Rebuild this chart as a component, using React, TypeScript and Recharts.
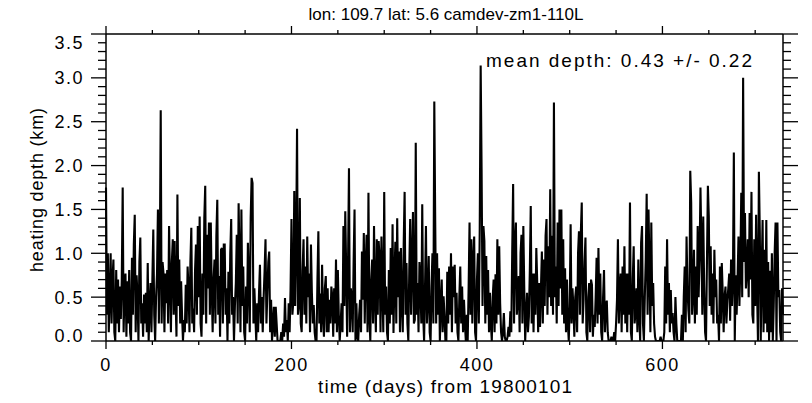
import { Line, LineChart, XAxis, YAxis } from "recharts";

// heating depth (km), one value per day from 1980-01-01
const DEPTH_A = [
  1.75, 0.3, 1.0, 0.1, 0.5, 1.0, 0.2, 0.7, 0.93, 0.1, 0.0, 0.81, 0.2, 0.7, 0.1, 0.62, 0.25, 0.7, 1.75, 0.1,
  0.6, 0.77, 0.05, 0.68, 0.2, 0.81, 0.1, 0.0, 0.95, 0.3, 1.1, 1.44, 0.1, 0.75, 0.5, 0.0, 0.9, 1.18, 0.2, 0.43,
  0.05, 0.53, 0.2, 0.55, 0.1, 0.89, 0.0, 0.4, 0.66, 0.1, 0.7, 1.27, 0.3, 0.0, 0.5, 0.77, 1.5, 0.2, 0.9, 2.63,
];
const DEPTH_B = [
  0.2, 0.9, 0.77, 0.1, 0.77, 0.43, 0.81, 0.2, 1.31, 0.7, 0.1, 0.9, 1.16, 0.3, 1.14, 0.5, 0.05, 1.67, 0.4, 0.93,
  0.2, 0.68, 0.3, 0.0, 0.24, 0.1, 0.64, 0.2, 0.85, 0.6, 0.1, 0.9, 1.29, 0.2, 0.37, 0.1, 0.8, 1.1, 0.3, 1.31,
  0.5, 1.42, 0.2, 0.05, 0.77, 0.3, 1.4, 1.77, 0.2, 1.21, 0.6, 1.35, 0.3, 1.35, 0.6, 0.1, 0.7, 0.93, 0.2, 1.2,
];
const DEPTH_C = [
  1.61, 0.3, 0.74, 0.05, 1.04, 1.06, 0.2, 1.1, 1.1, 0.3, 0.6, 0.0, 0.79, 0.2, 1.0, 1.39, 0.3, 0.5, 0.0, 0.4,
  0.66, 1.21, 0.2, 1.57, 0.9, 0.1, 1.5, 0.4, 0.85, 0.1, 0.0, 0.62, 0.2, 1.12, 0.7, 0.1, 1.4, 1.86, 1.8, 0.2,
  0.6, 0.3, 0.0, 0.43, 0.1, 0.55, 0.87, 0.2, 0.5, 0.1, 0.5, 0.8, 1.16, 0.2, 0.55, 0.9, 1.02, 0.1, 0.47, 0.0,
];
const DEPTH_D = [
  0.2, 0.39, 0.05, 0.39, 0.2, 0.0, 0.0, 0.0, 0.0, 0.1, 0.0, 0.2, 0.05, 0.49, 0.1, 0.24, 0.0, 0.43, 0.1, 0.58,
  1.39, 0.3, 0.45, 1.71, 0.4, 1.07, 2.42, 0.3, 0.41, 1.63, 0.2, 0.1, 0.8, 1.16, 0.3, 0.85, 0.2, 1.19, 0.5, 0.77,
  0.1, 1.1, 0.55, 0.2, 0.41, 0.1, 0.0, 0.0, 0.7, 1.25, 0.2, 0.54, 0.1, 0.87, 0.3, 0.05, 0.6, 0.74, 0.1, 0.6,
];
const DEPTH_E = [
  0.1, 0.47, 0.2, 0.62, 0.51, 0.05, 0.6, 0.2, 0.93, 0.1, 0.81, 0.3, 0.0, 0.2, 0.43, 0.1, 1.31, 0.4, 1.48, 0.81,
  0.05, 0.9, 1.97, 0.1, 0.6, 0.49, 0.1, 0.9, 1.5, 0.0, 0.43, 0.05, 0.0, 0.3, 0.47, 0.1, 1.02, 0.47, 1.23, 0.2,
  0.85, 1.21, 0.1, 1.69, 0.3, 0.0, 0.7, 0.93, 0.2, 1.31, 0.5, 0.1, 1.16, 0.3, 1.14, 0.95, 0.1, 1.19, 0.6, 0.1,
];
const DEPTH_F = [
  1.7, 0.3, 0.62, 0.1, 0.0, 0.81, 0.2, 1.06, 0.3, 1.33, 0.09, 0.7, 1.13, 0.2, 1.4, 0.5, 1.02, 0.1, 1.06, 0.43,
  0.1, 1.1, 1.7, 0.3, 0.89, 0.2, 0.0, 0.8, 1.39, 0.3, 0.9, 1.47, 0.2, 0.24, 2.26, 0.3, 0.66, 0.1, 0.9, 0.66,
  0.2, 1.56, 0.3, 0.0, 0.62, 1.31, 0.2, 0.47, 0.97, 0.1, 0.0, 0.62, 1.0, 0.2, 2.73, 1.35, 0.2, 1.0, 0.3, 0.83,
];
const DEPTH_G = [
  0.0, 0.4, 0.7, 0.1, 0.51, 0.3, 0.0, 0.0, 0.79, 0.2, 0.85, 0.3, 1.0, 0.1, 0.85, 0.5, 0.87, 0.2, 0.55, 0.1,
  0.0, 0.5, 0.85, 0.2, 0.62, 0.1, 0.47, 0.2, 0.0, 0.3, 0.0, 0.6, 1.35, 0.3, 1.16, 0.2, 0.9, 1.19, 0.1, 0.0,
  0.7, 1.0, 0.2, 1.29, 3.14, 1.96, 0.4, 1.31, 1.14, 0.2, 0.97, 0.3, 0.81, 0.1, 0.55, 0.2, 0.0, 0.5, 0.7, 0.1,
];
const DEPTH_H = [
  0.76, 0.2, 1.16, 0.3, 1.08, 0.43, 0.1, 0.0, 0.1, 0.32, 0.05, 0.0, 0.0, 0.05, 0.16, 0.05, 0.34, 0.1, 1.0, 1.79,
  0.2, 1.1, 1.35, 0.3, 0.5, 0.74, 0.1, 1.0, 1.21, 0.2, 1.31, 0.6, 0.0, 0.3, 0.55, 0.1, 0.28, 0.8, 1.54, 0.2,
  0.77, 0.1, 0.77, 0.3, 1.06, 0.66, 0.1, 0.66, 0.16, 0.6, 1.02, 0.2, 0.93, 0.4, 1.2, 1.39, 0.3, 1.08, 0.5, 1.73,
];
const DEPTH_I = [
  0.4, 1.2, 0.3, 2.72, 0.5, 0.85, 0.2, 1.35, 0.4, 1.5, 0.6, 1.5, 0.3, 1.16, 0.2, 0.83, 0.1, 0.7, 0.2, 0.0,
  0.4, 1.33, 0.2, 0.6, 0.39, 0.05, 0.5, 0.62, 0.1, 1.0, 1.25, 0.3, 1.23, 1.58, 0.2, 0.47, 0.9, 1.18, 0.1, 0.0,
  0.5, 0.66, 0.1, 0.7, 0.64, 0.05, 0.3, 0.16, 0.5, 0.95, 0.2, 1.06, 0.3, 0.77, 0.1, 0.0, 0.5, 0.81, 0.1, 0.4,
];
const DEPTH_J = [
  0.46, 0.1, 0.0, 0.0, 0.0, 0.05, 0.0, 0.0, 0.1, 0.0, 0.2, 0.47, 1.16, 0.2, 0.6, 0.77, 0.1, 0.85, 0.3, 1.08,
  0.2, 0.77, 0.1, 0.77, 0.3, 1.58, 0.1, 0.0, 0.7, 1.08, 0.2, 0.32, 0.6, 0.1, 0.93, 0.3, 0.0, 1.12, 1.31, 0.2,
  0.0, 0.5, 0.93, 1.68, 0.3, 1.5, 0.85, 0.1, 1.35, 0.4, 0.66, 0.2, 0.05, 0.0, 0.0, 0.0, 0.0, 0.0, 0.05, 0.0,
];
const DEPTH_K = [
  0.0, 0.0, 0.1, 0.85, 0.2, 1.16, 0.3, 0.66, 0.1, 0.58, 0.2, 0.32, 0.1, 0.0, 0.5, 0.2, 0.0, 0.0, 0.0, 0.0,
  0.0, 0.3, 0.0, 0.5, 0.85, 0.1, 1.19, 0.6, 0.35, 0.2, 1.94, 1.58, 0.3, 0.55, 1.04, 0.2, 0.85, 0.3, 1.31, 0.5,
  0.93, 1.75, 1.12, 0.3, 1.42, 0.62, 0.1, 0.0, 0.9, 1.77, 1.42, 0.4, 1.08, 0.3, 0.77, 0.2, 1.04, 0.5, 0.7, 0.2,
];
const DEPTH_L = [
  0.3, 0.0, 0.85, 0.2, 0.89, 0.55, 0.1, 0.5, 0.62, 0.2, 0.46, 0.6, 0.77, 0.23, 0.93, 0.4, 0.7, 2.15, 0.0, 0.75,
  0.3, 0.7, 1.19, 0.4, 0.85, 1.69, 0.5, 3.0, 0.9, 1.46, 0.6, 0.8, 1.16, 0.5, 1.46, 0.7, 1.7, 0.3, 0.2, 1.16,
  0.4, 1.44, 0.6, 0.0, 1.93, 1.23, 0.0, 0.8, 1.38, 0.1, 1.04, 0.2, 1.38, 0.1, 0.9, 0.0, 0.8, 0.1, 1.0, 0.0,
  0.4, 1.0, 1.35, 0.0, 1.35, 0.5, 0.58, 0.1, 0.0, 0.6, 0.3,
];
const DEPTH = [
  ...DEPTH_A, ...DEPTH_B, ...DEPTH_C, ...DEPTH_D, ...DEPTH_E, ...DEPTH_F,
  ...DEPTH_G, ...DEPTH_H, ...DEPTH_I, ...DEPTH_J, ...DEPTH_K, ...DEPTH_L,
];

const X_TICKS = [0, 50, 100, 150, 200, 250, 300, 350, 400, 450, 500, 550, 600, 650, 700];
const X_LABELED = [0, 200, 400, 600];
const Y_TICKS = [
  0, 0.1, 0.2, 0.3, 0.4, 0.5, 0.6, 0.7, 0.8, 0.9, 1.0, 1.1, 1.2, 1.3, 1.4, 1.5, 1.6, 1.7,
  1.8, 1.9, 2.0, 2.1, 2.2, 2.3, 2.4, 2.5, 2.6, 2.7, 2.8, 2.9, 3.0, 3.1, 3.2, 3.3, 3.4, 3.5,
];

const TITLE = "lon: 109.7 lat: 5.6 camdev-zm1-110L";
const NOTE = "mean depth: 0.43 +/- 0.22";
const X_TITLE = "time (days) from 19800101";
const Y_TITLE = "heating depth (km)";
const FONT = "'Liberation Sans', Arial, sans-serif";

const data = DEPTH.map((depth, day) => ({ day, depth }));

const isMajorY = (v: number) => Math.abs(v * 2 - Math.round(v * 2)) < 1e-6;

function LeftTick({ x, y, payload }: any) {
  const v = payload.value;
  const major = isMajorY(v);
  // the end labels sit just inside the frame, as in the reference
  const ly = v >= 3.5 ? y + 9 : v <= 0 ? y - 5 : y;
  return (
    <g>
      <line x1={x} x2={x - (major ? 15 : 8)} y1={y} y2={y} stroke="#000" strokeWidth={1.3} />
      {major && (
        <text x={x - 22} y={ly} dy="0.36em" textAnchor="end" fontSize={18} letterSpacing={1.5} fontFamily={FONT} fill="#000">
          {v.toFixed(1)}
        </text>
      )}
    </g>
  );
}

function RightTick({ x, y, payload }: any) {
  const major = isMajorY(payload.value);
  return <line x1={x} x2={x + (major ? 15 : 8)} y1={y} y2={y} stroke="#000" strokeWidth={1.3} />;
}

function BottomTick({ x, y, payload }: any) {
  const major = X_LABELED.includes(payload.value);
  return (
    <g>
      <line x1={x} x2={x} y1={y} y2={y + (major ? 8 : 4)} stroke="#000" strokeWidth={1.3} />
      {major && (
        <text x={x} y={y + 24} dy="0.36em" textAnchor="middle" fontSize={18} letterSpacing={1.5} fontFamily={FONT} fill="#000">
          {payload.value}
        </text>
      )}
    </g>
  );
}

function TopTick({ x, y, payload }: any) {
  const major = X_LABELED.includes(payload.value);
  return <line x1={x} x2={x} y1={y} y2={y - (major ? 8 : 4)} stroke="#000" strokeWidth={1.3} />;
}

export default function App() {
  return (
    <div style={{ position: "absolute", left: 0, top: 0, width: 812, height: 403, background: "#fff" }}>
      <LineChart width={812} height={403} data={data} margin={{ top: 33, right: 28, bottom: 0, left: 0 }}>
        <XAxis
          xAxisId="bottom"
          dataKey="day"
          type="number"
          domain={[0, 730]}
          ticks={X_TICKS}
          interval={0}
          height={62}
          tickSize={0}
          tickMargin={0}
          tickLine={false}
          axisLine={{ stroke: "#000", strokeWidth: 1.5 }}
          tick={<BottomTick />}
        />
        <XAxis
          xAxisId="top"
          orientation="top"
          dataKey="day"
          type="number"
          domain={[0, 730]}
          ticks={X_TICKS}
          interval={0}
          height={1}
          tickSize={0}
          tickMargin={0}
          tickLine={false}
          axisLine={{ stroke: "#000", strokeWidth: 1.5 }}
          tick={<TopTick />}
        />
        <YAxis
          yAxisId="left"
          type="number"
          domain={[0, 3.5]}
          ticks={Y_TICKS}
          interval={0}
          width={106}
          tickSize={0}
          tickMargin={0}
          tickLine={false}
          allowDataOverflow
          axisLine={{ stroke: "#000", strokeWidth: 1.5 }}
          tick={<LeftTick />}
        />
        <YAxis
          yAxisId="right"
          orientation="right"
          type="number"
          domain={[0, 3.5]}
          ticks={Y_TICKS}
          interval={0}
          width={1}
          tickSize={0}
          tickMargin={0}
          tickLine={false}
          allowDataOverflow
          axisLine={{ stroke: "#000", strokeWidth: 1.5 }}
          tick={<RightTick />}
        />
        <Line
          xAxisId="bottom"
          yAxisId="left"
          type="linear"
          dataKey="depth"
          stroke="#000"
          strokeWidth={2.1}
          dot={false}
          isAnimationActive={false}
        />
      </LineChart>
      <svg width={812} height={403} style={{ position: "absolute", left: 0, top: 0, pointerEvents: "none" }}>
        <g fontFamily={FONT} fill="#000">
          <text x={446} y={20} textAnchor="middle" fontSize={17} textLength={275}>
            {TITLE}
          </text>
          <text x={486} y={67} fontSize={19} textLength={266}>
            {NOTE}
          </text>
          <text x={445} y={393} textAnchor="middle" fontSize={19} textLength={254}>
            {X_TITLE}
          </text>
          <text x={43} y={190} textAnchor="middle" fontSize={18} textLength={164} transform="rotate(-90 43 190)">
            {Y_TITLE}
          </text>
        </g>
      </svg>
    </div>
  );
}
